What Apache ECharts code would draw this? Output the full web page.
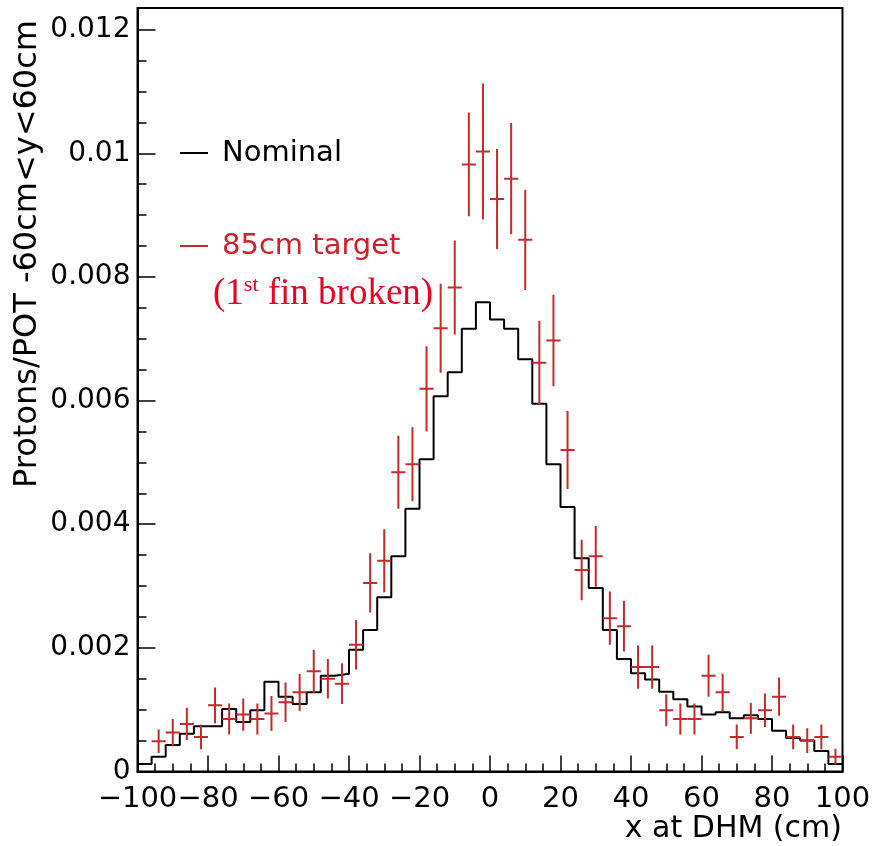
<!DOCTYPE html>
<html><head><meta charset="utf-8">
<script src="https://cdn.jsdelivr.net/npm/echarts@6/dist/echarts.min.js"></script>
<style>html,body{margin:0;padding:0;background:#fff}#c{width:874px;height:846px}</style>
</head><body><div id="c"></div>
<script>
// Bin edges of the histogram (cm)
const binEdges = [-100,-96,-92,-88,-84,-80,-76,-72,-68,-64,-60,-56,-52,-48,-44,-40,-36,-32,-28,-24,-20,-16,-12,-8,-4,0,4,8,12,16,20,24,28,32,36,40,44,48,52,56,60,64,68,72,76,80,84,88,92,96,100];
// Nominal histogram contents (one value per bin)
const nominal = [0.00012,0.00024,0.00043,0.00061,0.00073,0.00073,0.00101,0.00080,0.00099,0.00145,
                 0.00121,0.00109,0.00128,0.00155,0.00158,0.00197,0.00229,0.00282,0.00348,0.00425,
                 0.00505,0.00607,0.00646,0.00716,0.00759,0.00731,0.00716,0.00667,0.00595,0.00497,
                 0.00428,0.00345,0.00297,0.00229,0.00182,0.00159,0.00149,0.00129,0.00117,0.00105,
                 0.00092,0.00096,0.00086,0.00091,0.00085,0.00066,0.00054,0.00050,0.00033,0.00012];
// 85cm target (1st fin broken): bin centres, values, errors
const binCenters = [-98,-94,-90,-86,-82,-78,-74,-70,-66,-62,-58,-54,-50,-46,-42,-38,-34,-30,-26,-22,-18,-14,-10,-6,-2,2,6,10,14,18,22,26,30,34,38,42,46,50,54,58,62,66,70,74,78,82,86,90,94,98];
const target = [null,0.00049,0.00063,0.00077,0.00056,0.00107,0.00085,0.00092,0.00085,0.00094,
                0.00112,0.00128,0.00162,0.00150,0.00142,0.00205,0.00305,0.00341,0.00484,0.00497,
                0.00619,0.00717,0.00783,0.00982,0.01003,0.00926,0.00959,0.00860,0.00661,0.00697,
                0.00520,0.00326,0.00348,0.00248,0.00235,0.00169,0.00169,0.00099,0.00085,0.00085,
                0.00155,0.00128,0.00056,0.00086,0.00099,0.00121,0.00056,0.00050,0.00056,0.00024];
const targetErr = [null,0.00019,0.00022,0.00026,0.00020,0.00029,0.00025,0.00026,0.00025,0.00028,
                0.00032,0.00030,0.00035,0.00032,0.00033,0.00040,0.00048,0.00051,0.00059,0.00060,
                0.00069,0.00072,0.00076,0.00084,0.00110,0.00081,0.00090,0.00081,0.00068,0.00074,
                0.00063,0.00049,0.00049,0.00043,0.00041,0.00035,0.00035,0.00026,0.00025,0.00025,
                0.00034,0.00030,0.00020,0.00025,0.00027,0.00031,0.00020,0.00020,0.00020,0.00013];
const yTickLabels = ['0','0.002','0.004','0.006','0.008','0.01','0.012'];

const RED = '#c62a2a';
const stepData = [];
for (let i = 0; i < nominal.length; i++) {
  stepData.push([binEdges[i], nominal[i]]);
  stepData.push([binEdges[i + 1], nominal[i]]);
}
const pts = [];
for (let i = 0; i < binCenters.length; i++) {
  if (target[i] == null) continue;
  pts.push([binCenters[i], target[i], targetErr[i], (binEdges[i + 1] - binEdges[i]) / 2]);
}

const FONT = 'DejaVu Sans';
const chart = echarts.init(document.getElementById('c'), null, {renderer: 'canvas'});
chart.setOption({
  animation: false,
  backgroundColor: '#fff',
  grid: {left: 137.5, right: 31.5, top: 8, bottom: 74.5, show: true, borderColor: '#000', borderWidth: 2, backgroundColor: 'transparent'},
  xAxis: {
    type: 'value', min: -100, max: 100, interval: 20,
    axisLine: {show: true, onZero: false, lineStyle: {color: '#000', width: 2}},
    axisTick: {show: true, inside: true, length: 16, lineStyle: {color: '#000', width: 1.5}},
    minorTick: {show: true, splitNumber: 4, length: 8, lineStyle: {color: '#000', width: 1.5}},
    splitLine: {show: false},
    axisLabel: {margin: 13, fontSize: 29, color: '#000', fontFamily: FONT, showMinLabel: true, showMaxLabel: true, hideOverlap: false,
      formatter: v => (v < 0 ? '\u2212' + (-v) : String(v))}
  },
  yAxis: [{
    type: 'value', min: 0, max: 0.01235, interval: 0.002,
    axisLine: {show: true, onZero: false, lineStyle: {color: '#000', width: 2}},
    axisTick: {show: true, inside: true, length: 18, lineStyle: {color: '#000', width: 1.5}},
    splitLine: {show: false},
    axisLabel: {margin: 7, fontSize: 28, color: '#000', fontFamily: FONT, showMaxLabel: false,
      formatter: v => { const k = Math.round(v / 0.002); return (Math.abs(v - k * 0.002) < 1e-9 && yTickLabels[k]) ? yTickLabels[k] : ''; }}
  }, {
    type: 'value', min: 0, max: 0.01235, interval: 0.0005, position: 'left', offset: 0,
    axisLine: {show: false, onZero: false},
    axisTick: {show: true, inside: true, length: 9, lineStyle: {color: '#000', width: 1.5}},
    splitLine: {show: false},
    axisLabel: {show: false}
  }],
  series: [{
    type: 'line', data: stepData, yAxisIndex: 0, showSymbol: false, symbol: 'none',
    lineStyle: {color: '#000', width: 2}, z: 2, clip: true
  }, {
    type: 'custom', data: pts, yAxisIndex: 0, encode: {x: 0, y: 1}, z: 3, clip: true,
    renderItem: function (params, api) {
      const x = api.value(0), y = api.value(1), e = api.value(2), h = api.value(3);
      const c = api.coord([x, y]);
      const l = api.coord([x - h, y]);
      const r = api.coord([x + h, y]);
      const t = api.coord([x, y + e]);
      const b = api.coord([x, y - e]);
      return {type: 'group', children: [
        {type: 'line', shape: {x1: l[0], y1: c[1], x2: r[0], y2: c[1]}, style: {stroke: RED, lineWidth: 2}},
        {type: 'line', shape: {x1: c[0], y1: t[1], x2: c[0], y2: b[1]}, style: {stroke: RED, lineWidth: 2}}
      ]};
    }
  }],
  graphic: [
    {type: 'text', x: 28, y: 20, rotation: Math.PI / 2,
      style: {text: 'Protons/POT -60cm<y<60cm', fontSize: 32, fontFamily: FONT, fill: '#000', align: 'right', verticalAlign: 'middle'}},
    {type: 'text', x: 842, y: 829,
      style: {text: 'x at DHM (cm)', fontSize: 30, fontFamily: FONT, fill: '#000', align: 'right', verticalAlign: 'middle'}},
    {type: 'line', shape: {x1: 180, y1: 153, x2: 208, y2: 153}, style: {stroke: '#000', lineWidth: 2}},
    {type: 'text', x: 222, y: 153,
      style: {text: 'Nominal', fontSize: 29, fontFamily: FONT, fill: '#000', align: 'left', verticalAlign: 'middle'}},
    {type: 'line', shape: {x1: 180, y1: 246, x2: 208, y2: 246}, style: {stroke: '#d0202a', lineWidth: 2}},
    {type: 'text', x: 222, y: 246,
      style: {text: '85cm target', fontSize: 29, fontFamily: FONT, fill: '#d0202a', align: 'left', verticalAlign: 'middle'}},
    {type: 'text', x: 213, y: 294,
      style: {
        text: '{a|(1}{s|st}{a| fin broken)}', align: 'left', verticalAlign: 'middle',
        rich: {
          a: {fontSize: 37, fontFamily: 'Liberation Serif', fill: '#f0001e', lineHeight: 40},
          s: {fontSize: 22, fontFamily: 'Liberation Serif', fill: '#f0001e', verticalAlign: 'top', lineHeight: 40, padding: [0, 0, 14, 0]}
        }
      }}
  ]
});
</script>
</body></html>
